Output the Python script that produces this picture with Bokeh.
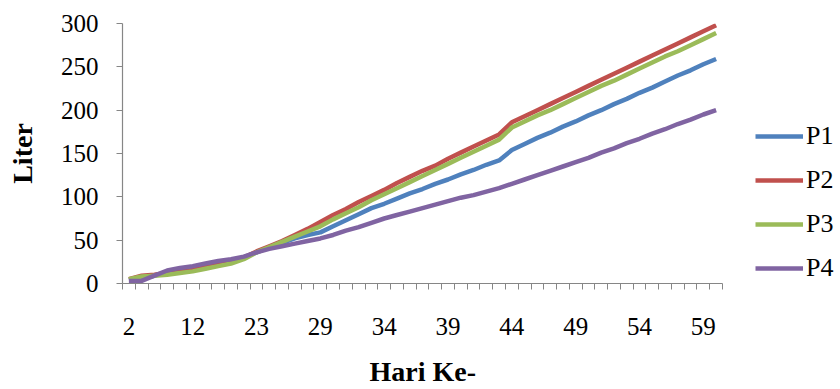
from bokeh.plotting import figure
from bokeh.models import ColumnDataSource, FixedTicker, Legend, LegendItem, Range1d, Title
from bokeh.embed import file_html
from bokeh.resources import INLINE

# Observation days (category axis) and cumulative volume per treatment, in litres
days = [2, 4, 6, 8, 10, 12, 14, 16, 18, 20, 23, 24, 25, 26, 28,
        29, 30, 31, 32, 33, 34, 35, 36, 37, 38, 39, 40, 41, 42, 43,
        44, 45, 46, 47, 48, 49, 50, 51, 52, 53, 54, 55, 56, 57, 58, 59, 60]

p1 = [4, 6, 9, 13, 16, 18, 21, 24, 27, 30, 36, 42, 47, 52, 56,
      59, 66, 73, 80, 87, 92, 98, 104, 109, 115, 120, 126, 131, 137, 142,
      154, 161, 168, 174, 181, 187, 194, 200, 207, 213, 220, 226, 233, 240, 246, 253, 259]
p2 = [5, 9, 10, 12, 14, 17, 20, 23, 26, 30, 37, 43, 49, 56, 63,
      71, 79, 86, 94, 101, 108, 116, 123, 130, 136, 144, 151, 158, 165, 172,
      186, 193, 200, 207, 214, 221, 228, 235, 242, 249, 256, 263, 270, 277, 284, 291, 298]
p3 = [5, 8, 9, 10, 12, 14, 17, 20, 23, 28, 36, 42, 48, 54, 60,
      66, 74, 81, 88, 96, 103, 110, 117, 124, 131, 138, 145, 152, 159, 166,
      180, 187, 194, 200, 207, 214, 221, 228, 234, 241, 248, 255, 262, 268, 275, 282, 289]
p4 = [3, 3, 9, 15, 18, 20, 23, 26, 28, 31, 36, 40, 43, 46, 49,
      52, 56, 61, 65, 70, 75, 79, 83, 87, 91, 95, 99, 102, 106, 110,
      115, 120, 125, 130, 135, 140, 145, 151, 156, 162, 167, 173, 178, 184, 189, 195, 200]

series_names = ["P1", "P2", "P3", "P4"]
series_colors = ["#4F81BD", "#C0504D", "#9BBB59", "#8064A2"]
y_ticks = [0, 50, 100, 150, 200, 250, 300]
label_every = 5

n = len(days)
source = ColumnDataSource(dict(
    x=[i + 0.5 for i in range(n)],
    P1=p1, P2=p2, P3=p3, P4=p4,
))

W, H = 840, 389
left, top, bottom = 122, 23, 106
axis_px = 600                      # drawn length of the category axis
frame_px = W - left                # frame runs to the right edge, legend lives inside it
x_end = n * frame_px / axis_px

p = figure(width=W, height=H, output_backend="svg", toolbar_location=None,
           x_range=Range1d(0, x_end), y_range=Range1d(0, 300),
           min_border_left=left, min_border_right=0,
           min_border_top=top, min_border_bottom=bottom)
p.outline_line_color = None
p.grid.grid_line_color = None
p.background_fill_color = "white"
p.border_fill_color = "white"

axis_gray = "#868686"
serif = "Liberation Serif"

# Category axis: tick marks between categories, labels on every fifth day
labelled = list(range(0, n, label_every))
p.xaxis.bounds = (0, n)
p.xaxis.ticker = FixedTicker(ticks=[i + 0.5 for i in labelled],
                             minor_ticks=list(range(0, n + 1)))
p.xaxis.major_label_overrides = {i + 0.5: str(days[i]) for i in labelled}
p.xaxis.major_tick_line_color = None
p.xaxis.minor_tick_line_color = axis_gray
p.xaxis.minor_tick_out = 6
p.xaxis.minor_tick_in = 0
p.xaxis.major_label_standoff = 28

p.yaxis.ticker = FixedTicker(ticks=y_ticks)
p.yaxis.major_tick_out = 6
p.yaxis.major_tick_in = 0
p.yaxis.major_tick_line_color = axis_gray
p.yaxis.minor_tick_line_color = None
p.yaxis.major_label_standoff = 18
p.yaxis.axis_label = "Liter"
p.yaxis.axis_label_standoff = 20

for ax in (p.xaxis, p.yaxis):
    ax.axis_line_color = axis_gray
    ax.axis_line_width = 1.2
    ax.major_label_text_font = serif
    ax.major_label_text_font_size = "25px"
    ax.major_label_text_color = "black"
    ax.axis_label_text_font = serif
    ax.axis_label_text_font_size = "28px"
    ax.axis_label_text_font_style = "bold"
    ax.axis_label_text_color = "black"

# a blank x-axis label just adds a little room between tick labels and the title
p.xaxis.axis_label = " "
p.xaxis.axis_label_text_font_size = "10px"
p.xaxis.axis_label_standoff = 0

# x-axis title, centred under the drawn axis rather than the whole frame
title_text = "Hari Ke-"
title_width = 106                  # approximate rendered width of the title text
x_title = Title(text=title_text, align="left",
                offset=(axis_px - title_width) / 2,
                text_font=serif, text_font_size="28px", text_font_style="bold",
                text_color="black", standoff=4)
p.add_layout(x_title, "below")

items = []
for name, color in zip(series_names, series_colors):
    r = p.line(x="x", y=name, source=source, line_color=color, line_width=4.5)
    items.append(LegendItem(label=name, renderers=[r]))

legend = Legend(items=items, location=(axis_px + 33, 0),
                glyph_width=48, glyph_height=26, label_height=26,
                label_standoff=3, spacing=14, padding=0, margin=0,
                label_text_font=serif, label_text_font_size="26px",
                label_text_color="black",
                border_line_color=None, background_fill_alpha=0)
p.add_layout(legend, "center")

open("out.html", "w").write(file_html(p, INLINE))
